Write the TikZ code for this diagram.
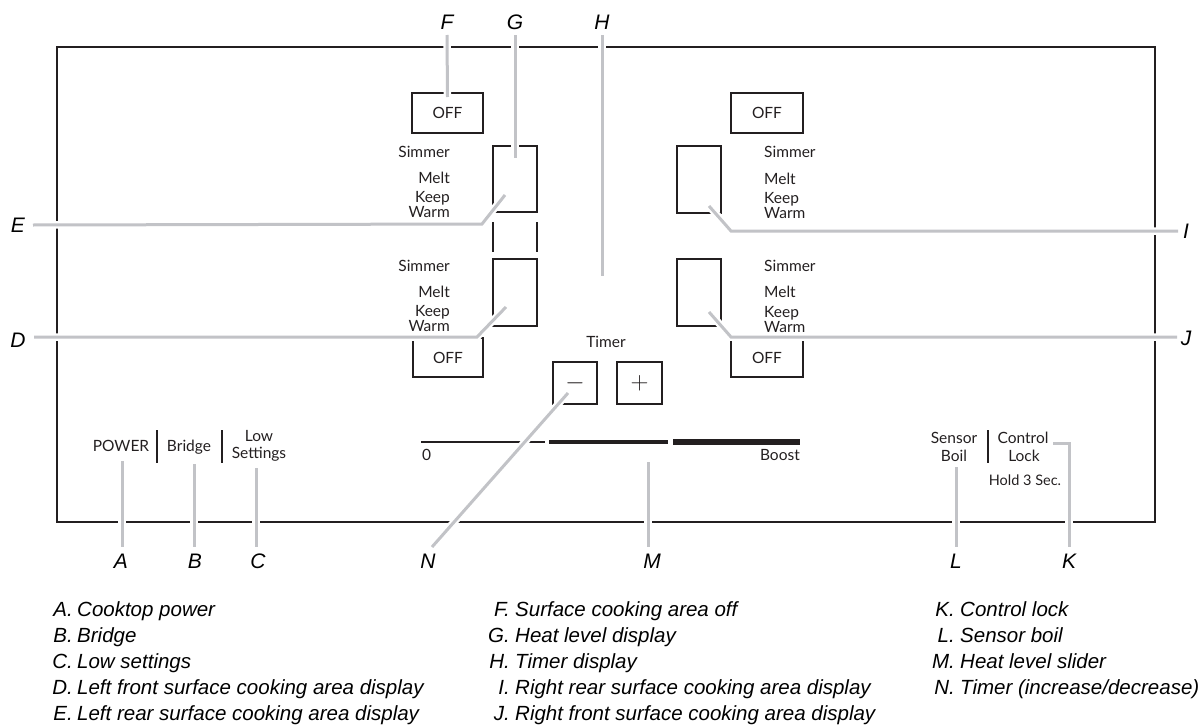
\documentclass[tikz,border=0pt]{standalone}
\usepackage{fontspec}
\setmainfont{Lato}
\newfontfamily\capfont{Liberation Sans}
\definecolor{ink}{HTML}{231F20}
\definecolor{lead}{HTML}{C2C3C7}
\tikzset{
  panelbox/.style={draw=ink, line width=1.3pt, inner sep=0pt, outer sep=0pt},
  keybox/.style={draw=ink, line width=2pt, inner sep=0pt, outer sep=0pt, text=ink, font=\fontsize{15.5}{18}\selectfont},
  ptext/.style={inner sep=0pt, text=ink, font=\fontsize{15.5}{18}\selectfont},
  stext/.style={inner sep=0pt, text=ink, font=\fontsize{14.5}{17}\selectfont},
  leader/.style={draw=lead, line width=3pt, preaction={draw=white, line width=7.5pt}},
  callout/.style={inner sep=0pt, font=\capfont\itshape\fontsize{21}{24}\selectfont},
  legend/.style={inner sep=0pt, font=\capfont\itshape\fontsize{20.5}{24}\selectfont},
  sepbar/.style={draw=ink, line width=2.5pt},
}
\begin{document}
\begin{tikzpicture}[x=1pt,y=-1pt]
\useasboundingbox (0,0) rectangle (1203,728);
% panel
\node[panelbox, minimum width=1098pt, minimum height=475pt] (panel) at (606,284.5) {};
% OFF boxes
\node[keybox, minimum width=71pt, minimum height=40pt] (offLT) at (447.5,113) {OFF};
\node[keybox, minimum width=72pt, minimum height=40pt] (offRT) at (767,113) {OFF};
\node[keybox, minimum width=70pt, minimum height=39pt] (offLB) at (448,357.5) {OFF};
\node[keybox, minimum width=72pt, minimum height=39pt] (offRB) at (767,357.5) {OFF};
% display boxes
\node[keybox, minimum width=44pt, minimum height=66pt] (dispLU) at (515,179) {};
\node[keybox, minimum width=44pt, minimum height=67pt] (dispLL) at (515,292.5) {};
\node[keybox, minimum width=44pt, minimum height=67pt] (dispRU) at (699,179.5) {};
\node[keybox, minimum width=44pt, minimum height=67pt] (dispRL) at (699,292.5) {};
% bridge marks
\draw[ink, line width=2pt] (493,222) -- (493,252);
\draw[ink, line width=2pt] (537,222) -- (537,252);
% left heat texts
\node[ptext, anchor=base east] (lu1) at (450,157) {Simmer};
\node[ptext, anchor=base east] (lu2) at (450,183) {Melt};
\node[ptext, anchor=base east] (lu3) at (450,202) {Keep};
\node[ptext, anchor=base east] (lu4) at (450,217) {Warm};
\node[ptext, anchor=base east] (ll1) at (450,271) {Simmer};
\node[ptext, anchor=base east] (ll2) at (450,297) {Melt};
\node[ptext, anchor=base east] (ll3) at (450,316) {Keep};
\node[ptext, anchor=base east] (ll4) at (450,331) {Warm};
% right heat texts
\node[ptext, anchor=base west] (ru1) at (764,157) {Simmer};
\node[ptext, anchor=base west] (ru2) at (764,184) {Melt};
\node[ptext, anchor=base west] (ru3) at (764,203) {Keep};
\node[ptext, anchor=base west] (ru4) at (764,218) {Warm};
\node[ptext, anchor=base west] (rl1) at (764,271) {Simmer};
\node[ptext, anchor=base west] (rl2) at (764,297) {Melt};
\node[ptext, anchor=base west] (rl3) at (764,317) {Keep};
\node[ptext, anchor=base west] (rl4) at (764,332) {Warm};
% timer
\node[ptext, anchor=base] (timer) at (606,347) {Timer};
\node[keybox, minimum width=44pt, minimum height=42pt, font=\fontsize{27}{28}\selectfont] (minus) at (575,383) {$-$};
\node[keybox, minimum width=45pt, minimum height=42pt, font=\fontsize{26}{28}\selectfont] (plus) at (639.5,383) {$+$};
% slider
\draw[ink, line width=2pt] (421,442) -- (545,442);
\draw[ink, line width=4.5pt] (549,442) -- (668,442);
\draw[ink, line width=6.5pt] (673,442) -- (800,442);
\node[ptext, anchor=base west] (zero) at (422,460) {0};
\node[ptext, anchor=base east] (boost) at (800,460) {Boost};
% bottom left keys
\node[ptext, anchor=base] (power) at (121,451) {POWER};
\draw[sepbar] (157,430) -- (157,463);
\node[ptext, anchor=base] (bridge) at (189,451) {Bridge};
\draw[sepbar] (222,430) -- (222,463);
\node[ptext, anchor=base] (low) at (259,441) {Low};
\node[ptext, anchor=base] (settings) at (259,458) {Settings};
% bottom right keys
\node[ptext, anchor=base] (sensor) at (954,443) {Sensor};
\node[ptext, anchor=base] (boil) at (954,461) {Boil};
\draw[sepbar] (988,430) -- (988,463);
\node[ptext, anchor=base] (control) at (1023,443) {Control};
\node[ptext, anchor=base] (lock) at (1024,461) {Lock};
\node[stext, anchor=base] (hold) at (1025,485) {Hold 3 Sec.};
% callout letters
\node[callout] (F) at (447,22) {F};
\node[callout] (G) at (515,22) {G};
\node[callout] (H) at (602,22) {H};
\node[callout] (E) at (18,225) {E};
\node[callout] (D) at (18,340) {D};
\node[callout] (I) at (1186,231) {I};
\node[callout] (J) at (1186,338) {J};
\node[callout] (A) at (121,561.5) {A};
\node[callout] (B) at (195,561.5) {B};
\node[callout] (C) at (258,561.5) {C};
\node[callout] (N) at (428,561.5) {N};
\node[callout] (M) at (652,561.5) {M};
\node[callout] (L) at (956,561.5) {L};
\node[callout] (K) at (1069,561.5) {K};
\coordinate (Htip) at (602,276);
\coordinate (Mtip) at (648,462);
\coordinate (Ktip) at (1053,443);
\coordinate (Atip) at (122,461);
\coordinate (Btip) at (194,464);
\coordinate (Ctip) at (256,468);
\coordinate (Ltip) at (956,467);
% leaders
\draw[leader] ([yshift=-13pt]F.center) -- ([yshift=-4pt]offLT.north);
\draw[leader] ([yshift=-13pt]G.center) -- ([yshift=-12pt]dispLU.north);
\draw[leader] ([yshift=-13pt]H.center) -- (Htip);
\draw[leader] ([xshift=15pt]E.center) -- (482,224) -- ([shift={(-10pt,-16pt)}]dispLU.center);
\draw[leader] ([xshift=16pt,yshift=3pt]D.center) -- (477,337) -- ([shift={(-9pt,-14.5pt)}]dispLL.center);
\draw[leader] ([shift={(10pt,-26.5pt)}]dispRU.center) -- (731,231) -- ([xshift=-8pt]I.center);
\draw[leader] ([shift={(10pt,-19.5pt)}]dispRL.center) -- (731,337) -- ([xshift=-9pt,yshift=1pt]J.center);
\draw[leader] ([shift={(-7pt,-10pt)}]minus.center) -- ([shift={(4pt,14.5pt)}]N.center);
\draw[leader] (Mtip) -- ([shift={(-4pt,14.5pt)}]M.center);
\draw[leader] (Ktip) -- (1069,443) -- ([yshift=14.5pt]K.center);
\draw[leader] (Atip) -- ([shift={(1pt,14.5pt)}]A.center);
\draw[leader] (Btip) -- ([shift={(-1pt,14.5pt)}]B.center);
\draw[leader] (Ctip) -- ([shift={(-2pt,14.5pt)}]C.center);
\draw[leader] (Ltip) -- ([yshift=14.5pt]L.center);
% legend
\node[legend, anchor=base east] (la) at (73,616) {A.};
\node[legend, anchor=base west] (lat) at (77,616) {Cooktop power};
\node[legend, anchor=base east] (lb) at (73,642) {B.};
\node[legend, anchor=base west] (lbt) at (77,642) {Bridge};
\node[legend, anchor=base east] (lc) at (73,668) {C.};
\node[legend, anchor=base west] (lct) at (77,668) {Low settings};
\node[legend, anchor=base east] (ld) at (73,694) {D.};
\node[legend, anchor=base west] (ldt) at (77,694) {Left front surface cooking area display};
\node[legend, anchor=base east] (le) at (73,720) {E.};
\node[legend, anchor=base west] (let) at (77,720) {Left rear surface cooking area display};
\node[legend, anchor=base east] (lf) at (510,616) {F.};
\node[legend, anchor=base west] (lft) at (515,616) {Surface cooking area off};
\node[legend, anchor=base east] (lg) at (510,642) {G.};
\node[legend, anchor=base west] (lgt) at (515,642) {Heat level display};
\node[legend, anchor=base east] (lh) at (510,668) {H.};
\node[legend, anchor=base west] (lht) at (515,668) {Timer display};
\node[legend, anchor=base east] (li) at (510,694) {I.};
\node[legend, anchor=base west] (lit) at (515,694) {Right rear surface cooking area display};
\node[legend, anchor=base east] (lj) at (510,720) {J.};
\node[legend, anchor=base west] (ljt) at (515,720) {Right front surface cooking area display};
\node[legend, anchor=base east] (lk) at (955,616) {K.};
\node[legend, anchor=base west] (lkt) at (960,616) {Control lock};
\node[legend, anchor=base east] (ll) at (955,642) {L.};
\node[legend, anchor=base west] (llt) at (960,642) {Sensor boil};
\node[legend, anchor=base east] (lm) at (955,668) {M.};
\node[legend, anchor=base west] (lmt) at (960,668) {Heat level slider};
\node[legend, anchor=base east] (ln) at (955,694) {N.};
\node[legend, anchor=base west] (lnt) at (960,694) {Timer (increase/decrease)};
\end{tikzpicture}
\end{document}
